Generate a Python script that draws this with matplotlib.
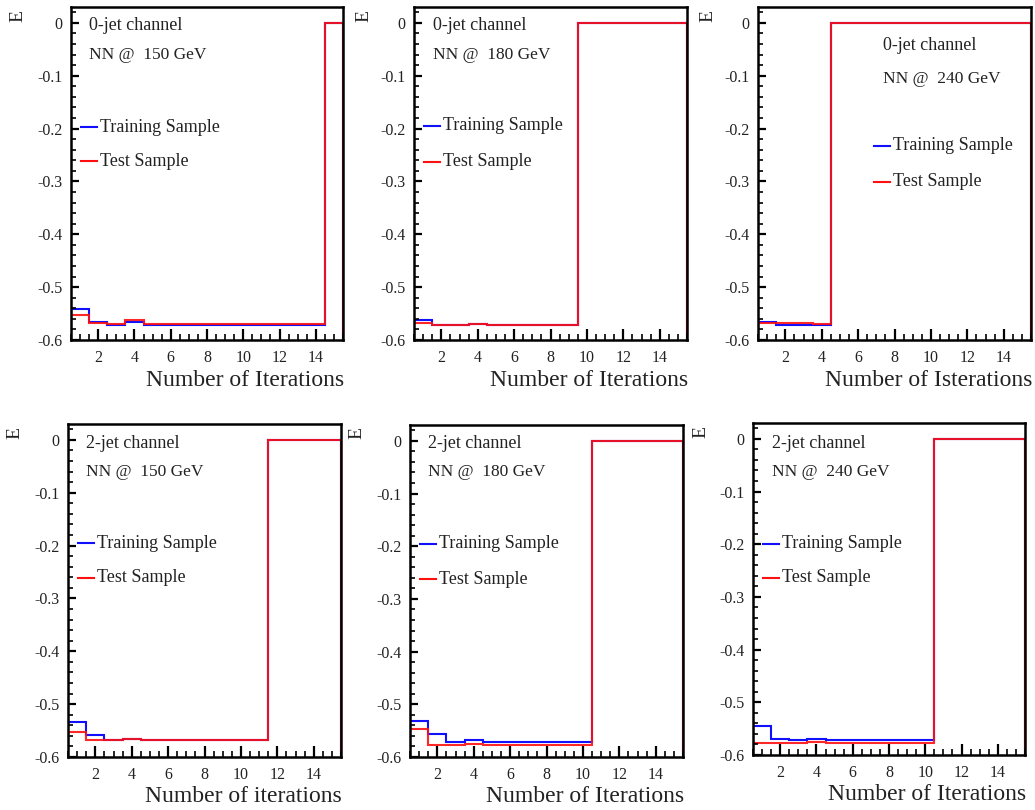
import numpy as np
import matplotlib
matplotlib.use("Agg")
import matplotlib.pyplot as plt
from matplotlib.ticker import MultipleLocator

plt.rcParams["font.family"] = ["Liberation Serif", "DejaVu Serif"]

# Iteration bins 1..15 (bin edges at half-integers)
iterations = list(range(1, 16))

# Error function E per iteration; 0 after the training stopped
train_0j_150 = [-0.542, -0.565, -0.572, -0.565, -0.572, -0.572, -0.572, -0.572,
                -0.572, -0.572, -0.572, -0.572, -0.572, -0.572, 0.0]
test_0j_150 = [-0.553, -0.568, -0.569, -0.563, -0.570, -0.570, -0.570, -0.570,
               -0.570, -0.570, -0.570, -0.570, -0.570, -0.570, 0.0]

train_0j_180 = [-0.563, -0.571, -0.572, -0.569, -0.5715, -0.5715, -0.5715, -0.5715,
                -0.5715, 0.0, 0.0, 0.0, 0.0, 0.0, 0.0]
test_0j_180 = [-0.568, -0.571, -0.572, -0.569, -0.5715, -0.5715, -0.5715, -0.5715,
               -0.5715, 0.0, 0.0, 0.0, 0.0, 0.0, 0.0]

train_0j_240 = [-0.566, -0.571, -0.571, -0.571, 0.0, 0.0, 0.0, 0.0,
                0.0, 0.0, 0.0, 0.0, 0.0, 0.0, 0.0]
test_0j_240 = [-0.568, -0.568, -0.568, -0.570, 0.0, 0.0, 0.0, 0.0,
               0.0, 0.0, 0.0, 0.0, 0.0, 0.0, 0.0]

train_2j_150 = [-0.533, -0.558, -0.567, -0.565, -0.567, -0.567, -0.567, -0.567,
                -0.567, -0.567, -0.567, 0.0, 0.0, 0.0, 0.0]
test_2j_150 = [-0.552, -0.567, -0.567, -0.565, -0.567, -0.567, -0.567, -0.567,
               -0.567, -0.567, -0.567, 0.0, 0.0, 0.0, 0.0]

train_2j_180 = [-0.531, -0.557, -0.571, -0.568, -0.571, -0.571, -0.571, -0.571,
                -0.571, -0.571, 0.0, 0.0, 0.0, 0.0, 0.0]
test_2j_180 = [-0.547, -0.578, -0.578, -0.575, -0.578, -0.578, -0.578, -0.578,
               -0.578, -0.578, 0.0, 0.0, 0.0, 0.0, 0.0]

train_2j_240 = [-0.545, -0.570, -0.572, -0.569, -0.572, -0.572, -0.572, -0.572,
                -0.572, -0.572, 0.0, 0.0, 0.0, 0.0, 0.0]
test_2j_240 = [-0.577, -0.578, -0.578, -0.575, -0.578, -0.578, -0.578, -0.578,
               -0.578, -0.578, 0.0, 0.0, 0.0, 0.0, 0.0]

channels = ["0-jet channel", "0-jet channel", "0-jet channel",
            "2-jet channel", "2-jet channel", "2-jet channel"]
masses = ["NN @  150 GeV", "NN @  180 GeV", "NN @  240 GeV",
          "NN @  150 GeV", "NN @  180 GeV", "NN @  240 GeV"]
xlabels = ["Number of Iterations", "Number of Iterations", "Number of Isterations",
           "Number of iterations", "Number of Iterations", "Number of Iterations"]
train_series = [train_0j_150, train_0j_180, train_0j_240,
                train_2j_150, train_2j_180, train_2j_240]
test_series = [test_0j_150, test_0j_180, test_0j_240,
               test_2j_150, test_2j_180, test_2j_240]

W, H = 1035, 810
fig = plt.figure(figsize=(W / 100, H / 100), dpi=100)

# pad frames in pixels: left, right, top, bottom
frames = [(71, 343, 7, 340), (414, 687, 7, 340), (758, 1031, 7, 340),
          (68, 341, 424, 757), (410, 683, 425, 757), (753, 1025, 423, 755)]
# text anchors in pixels: (title x, title y, mass y, legend line x, legend y1, legend y2)
labels_px = [(89, 25, 55, 81, 127, 161),
             (433, 25, 55, 424, 126, 162),
             (883, 46, 79, 874, 146, 182),
             (86, 443, 472, 78, 543, 578),
             (428, 443, 472, 420, 544, 579),
             (772, 443, 472, 763, 544, 578)]
e_pos = [(18, 16), (364, 16), (708, 16), (15, 433), (357, 433), (701, 432)]

def fx(px):
    return px / W

def fy(py):
    return 1 - py / H

edges = np.arange(0.5, 16.0, 1.0)
ymin, ymax = -0.6, 0.03
txt = "#222222"

for i in range(6):
    l, r, t, b = frames[i]
    ax = fig.add_axes([fx(l), fy(b), (r - l) / W, (b - t) / H])
    ax.stairs(train_series[i], edges, baseline=ymin, color="#1010ff", lw=1.5)
    ax.stairs(test_series[i], edges, baseline=ymin, color="#ff1010", lw=1.5, alpha=0.9)
    ax.set_xlim(0.5, 15.5)
    ax.set_ylim(ymin, ymax)
    ax.xaxis.set_major_locator(MultipleLocator(2))
    ax.xaxis.set_minor_locator(MultipleLocator(0.5))
    ax.yaxis.set_major_locator(MultipleLocator(0.1))
    ax.yaxis.set_minor_locator(MultipleLocator(0.02))
    ax.tick_params(which="both", direction="in", top=False, right=False,
                   labelsize=11.5, colors="black", labelcolor=txt)
    ax.tick_params(axis="x", which="major", length=8, width=1.6, pad=7)
    ax.tick_params(axis="x", which="minor", length=4, width=1.2)
    ax.tick_params(axis="y", which="major", length=6, width=1.6, pad=6)
    ax.tick_params(axis="y", which="minor", length=3.5, width=1.2)
    ax.set_yticks([-0.6, -0.5, -0.4, -0.3, -0.2, -0.1, 0.0])
    ax.set_yticklabels(["-0.6", "-0.5", "-0.4", "-0.3", "-0.2", "-0.1", "0"])
    for sp in ax.spines.values():
        sp.set_linewidth(1.8)

    tx, ty, my, lx, ly1, ly2 = labels_px[i]
    fig.text(fx(tx), fy(ty), channels[i], fontsize=13, va="center", ha="left",
             color=txt)
    fig.text(fx(tx), fy(my), masses[i], fontsize=12.5, va="center", ha="left",
             color=txt)
    fig.add_artist(plt.Line2D([fx(lx), fx(lx + 16)], [fy(ly1), fy(ly1)],
                              color="#1010ff", lw=1.5))
    fig.add_artist(plt.Line2D([fx(lx), fx(lx + 16)], [fy(ly2), fy(ly2)],
                              color="#ff1010", lw=1.5))
    fig.text(fx(lx + 19), fy(ly1), "Training Sample", fontsize=13,
             va="center", ha="left", color=txt)
    fig.text(fx(lx + 19), fy(ly2), "Test Sample", fontsize=13,
             va="center", ha="left", color=txt)

    ex, ey = e_pos[i]
    fig.text(fx(ex), fy(ey), "E", fontsize=14, rotation=90, va="center",
             ha="center", color=txt)
    fig.text(fx(r + 1), fy(b + 40), xlabels[i], fontsize=17, va="center",
             ha="right", color=txt)

fig.savefig("out.png", dpi=100)
